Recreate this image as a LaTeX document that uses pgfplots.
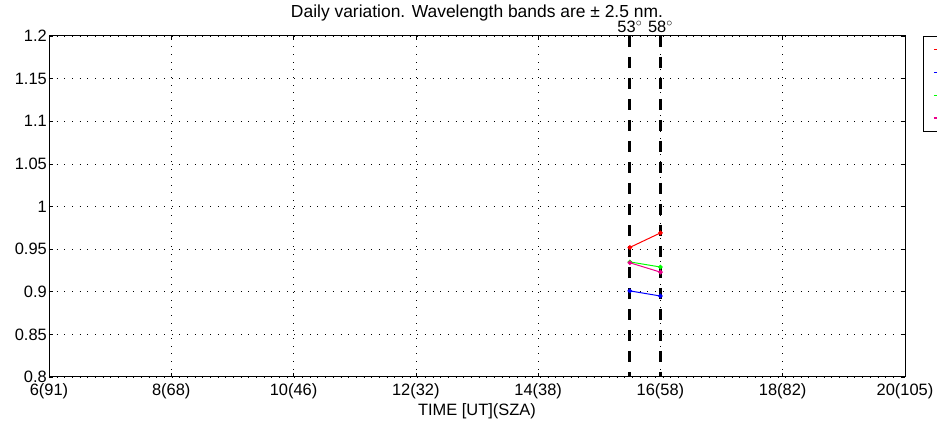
\documentclass[border=0pt]{standalone}
\usepackage{pgfplots}
\pgfplotsset{compat=1.18}
\usepackage{fontspec}
\setmainfont{Liberation Sans}
\begin{document}
\fontsize{16}{18}\selectfont
\begin{tikzpicture}[x=1bp,y=1bp]
\begin{axis}[
  scale only axis,
  width=856bp, height=341bp,
  xmin=6, xmax=20, ymin=0.8, ymax=1.2,
  xtick={6,8,10,12,14,16,18,20},
  xticklabels={6(91),8(68),10(46),12(32),14(38),16(58),18(82),20(105)},
  ytick={0.8,0.85,0.9,0.95,1,1.05,1.1,1.15,1.2},
  yticklabels={0.8,0.85,0.9,0.95,1,1.05,1.1,1.15,1.2},
  grid=major,
  major grid style={black, line width=0.7pt, dash pattern=on 0.7pt off 7pt},
  axis line style={black, line width=1pt},
  tick style={black, line width=0.6pt},
  major tick length=4bp,
  tick align=inside,
  xtick pos=both, ytick pos=both,
  /pgf/number format/assume math mode=true,
  tick label style={font=\fontsize{16.5}{18}\selectfont},
  xticklabel style={yshift=-4bp, inner sep=2bp},
  yticklabel style={inner sep=2bp},
  xlabel={TIME [UT](SZA)},
  xlabel style={font=\fontsize{16.5}{18}\selectfont, yshift=2bp},
  title={Daily variation. Wavelength bands are ± 2.5 nm.},
  title style={font=\fontsize{17.5}{19}\selectfont, anchor=base, yshift=13bp},
  clip=false,
  legend style={at={(1.0207,1.0)}, anchor=north west, draw=black, line width=1pt,
    font=\fontsize{12}{14}\selectfont, row sep=8bp, inner xsep=10bp, inner ysep=6bp},
  legend cell align=left,
  legend image code/.code={\draw[#1, line width=1.2pt] (0bp,0bp) -- (10bp,0bp);},
]
\addplot[red, line width=1pt, mark=*, mark size=1.8bp] coordinates {(15.5,0.952) (16,0.969)};
\addplot[blue, line width=1pt, mark=*, mark size=1.8bp] coordinates {(15.5,0.901) (16,0.895)};
\addplot[green, line width=1pt, mark=*, mark size=1.8bp] coordinates {(15.5,0.935) (16,0.929)};
\addplot[magenta, line width=1pt, mark=*, mark size=1.8bp] coordinates {(15.5,0.934) (16,0.923)};
\legend{305 nm,310 nm,320 nm,340 nm}
\addplot[black, line width=3pt, dash pattern=on 11bp off 10bp, forget plot] coordinates {(15.5,1.2) (15.5,0.8)};
\addplot[black, line width=3pt, dash pattern=on 11bp off 10bp, forget plot] coordinates {(16,1.2) (16,0.8)};
\node[font=\fontsize{16.5}{18}\selectfont, anchor=base] at (axis cs:15.5,1.2) [yshift=3bp] {53$^{\circ}$};
\node[font=\fontsize{16.5}{18}\selectfont, anchor=base] at (axis cs:16,1.2) [yshift=3bp] {58$^{\circ}$};
\coordinate (bl) at (rel axis cs:0,0);
\coordinate (tr) at (rel axis cs:1,1);
\end{axis}
\pgfresetboundingbox
\path[use as bounding box] ([xshift=-49bp, yshift=-53bp]bl) rectangle ([xshift=32bp, yshift=36bp]tr);
\end{tikzpicture}
\end{document}
